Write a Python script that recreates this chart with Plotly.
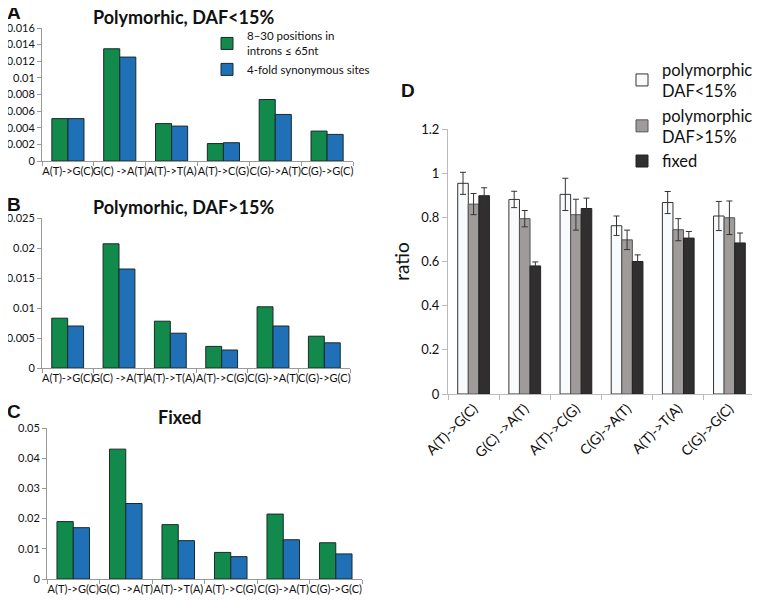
import plotly.graph_objects as go

# mutation types, panels A-C
subs = ["A(T)->G(C)", "G(C) ->A(T)", "A(T)->T(A)", "A(T)->C(G)", "C(G)->A(T)", "C(G)->G(C)"]

# panel A: polymorphic, DAF<15%
a_intron = [0.0051, 0.0135, 0.0045, 0.0021, 0.0074, 0.0036]
a_syn = [0.0051, 0.0125, 0.0042, 0.0022, 0.0056, 0.0032]
# panel B: polymorphic, DAF>15%
b_intron = [0.0083, 0.0207, 0.0078, 0.0036, 0.0102, 0.0053]
b_syn = [0.0070, 0.0165, 0.0058, 0.0030, 0.0070, 0.0042]
# panel C: fixed
c_intron = [0.019, 0.043, 0.018, 0.0088, 0.0215, 0.012]
c_syn = [0.017, 0.025, 0.0127, 0.0074, 0.013, 0.0083]

# panel D: ratios with error bars
d_subs = ["A(T)->G(C)", "G(C) ->A(T)", "A(T)->C(G)", "C(G)->A(T)", "A(T)->T(A)", "C(G)->G(C)"]
d_low = [0.954, 0.881, 0.904, 0.762, 0.867, 0.806]
d_low_err = [0.050, 0.037, 0.073, 0.044, 0.050, 0.066]
d_high = [0.860, 0.794, 0.812, 0.698, 0.744, 0.798]
d_high_err = [0.048, 0.037, 0.070, 0.044, 0.050, 0.076]
d_fixed = [0.898, 0.580, 0.840, 0.600, 0.706, 0.684]
d_fixed_err = [0.036, 0.018, 0.047, 0.030, 0.030, 0.045]

GREEN = "#128a4c"
BLUE = "#1f70b6"
W, H = 760, 603
OFF = 8  # the page body adds an 8px margin
FONT = "Lato"


def fx(x):
    return (x - OFF) / W


def fy(y):
    return 1 - (y - OFF) / H


def px(x0, x1):
    return [fx(x0), fx(x1)]


def py(top, bottom):
    return [fy(bottom), fy(top)]


fig = go.Figure()

left_panels = [
    ("x", "y", a_intron, a_syn, True),
    ("x2", "y2", b_intron, b_syn, False),
    ("x3", "y3", c_intron, c_syn, False),
]
for xa, ya, gi, bl, show in left_panels:
    fig.add_trace(go.Bar(x=subs, y=gi, xaxis=xa, yaxis=ya, marker_color=GREEN,
                         marker_line=dict(color="#1a2a2a", width=1),
                         name="8–30 positions in<br>introns ≤ 65nt", showlegend=show, legend="legend"))
    fig.add_trace(go.Bar(x=subs, y=bl, xaxis=xa, yaxis=ya, marker_color=BLUE,
                         marker_line=dict(color="#1a2a2a", width=1),
                         name="4-fold synonymous sites", showlegend=show, legend="legend"))

err_style = dict(type="data", thickness=1, width=3, color="#333333")
fig.add_trace(go.Bar(x=d_subs, y=d_low, xaxis="x4", yaxis="y4", marker_color="#f8fafc",
                     marker_line=dict(color="#333333", width=1),
                     error_y=dict(array=d_low_err, **err_style),
                     name="polymorphic,<br>DAF<15%", legend="legend2"))
fig.add_trace(go.Bar(x=d_subs, y=d_high, xaxis="x4", yaxis="y4", marker_color="#a09b9b",
                     marker_line=dict(color="#555555", width=1),
                     error_y=dict(array=d_high_err, **err_style),
                     name="polymorphic,<br>DAF>15%", legend="legend2"))
fig.add_trace(go.Bar(x=d_subs, y=d_fixed, xaxis="x4", yaxis="y4", marker_color="#302e2e",
                     marker_line=dict(color="#222222", width=1),
                     error_y=dict(array=d_fixed_err, **err_style),
                     name="fixed", legend="legend2"))

tick_font = dict(family=FONT, size=11, color="#111111")
xstyle = dict(type="category", tickson="boundaries", ticks="outside", ticklen=4,
              tickcolor="#999999", showline=True, linecolor="#999999", linewidth=1,
              tickfont=tick_font, tickangle=0)
ystyle = dict(ticks="outside", ticklen=4, tickcolor="#999999", showline=True,
              linecolor="#999999", linewidth=1, showgrid=False, zeroline=False,
              tickfont=tick_font, tickformat="~g")

fig.update_layout(
    width=W, height=H,
    margin=dict(l=0, r=0, t=0, b=0, autoexpand=False),
    paper_bgcolor="white", plot_bgcolor="white",
    barmode="group",
    font=dict(family=FONT, color="#111111"),
    xaxis=dict(domain=px(42, 353), anchor="y", **xstyle),
    yaxis=dict(domain=py(28, 161), anchor="x", range=[0, 0.016], dtick=0.002, **ystyle),
    xaxis2=dict(domain=px(42, 350), anchor="y2", **xstyle),
    yaxis2=dict(domain=py(218, 368), anchor="x2", range=[0, 0.025], dtick=0.005, **ystyle),
    xaxis3=dict(domain=px(47, 362), anchor="y3", **xstyle),
    yaxis3=dict(domain=py(428, 579), anchor="x3", range=[0, 0.05], dtick=0.01, **ystyle),
    xaxis4=dict(domain=px(448, 755), anchor="y4", type="category", tickson="boundaries",
                ticks="outside", ticklen=5, tickcolor="#bbbbbb", showline=True,
                linecolor="#bbbbbb", tickangle=-45,
                tickfont=dict(family=FONT, size=14, color="#111111")),
    yaxis4=dict(domain=py(129, 394), anchor="x4", range=[0, 1.2], dtick=0.2,
                tickformat="~g", ticks="outside", ticklen=5, tickcolor="#bbbbbb",
                showline=True, linecolor="#bbbbbb", showgrid=False, zeroline=False,
                tickfont=dict(family=FONT, size=13, color="#111111"),
                title=dict(text="ratio", font=dict(family=FONT, size=19), standoff=6)),
    bargap=0.38, bargroupgap=0,
    legend=dict(x=fx(207), y=fy(22), xanchor="left", yanchor="top",
                bgcolor="rgba(0,0,0,0)", font=dict(family=FONT, size=11.5),
                tracegroupgap=3, itemwidth=30),
    legend2=dict(x=fx(622), y=fy(52), xanchor="left", yanchor="top",
                 bgcolor="rgba(0,0,0,0)", font=dict(family=FONT, size=16.5),
                 tracegroupgap=6, itemwidth=30),
)

title_font = dict(family=FONT, size=18, color="#111111")
letter_font = dict(family="Liberation Sans", size=19, color="#111111")
notes = [
    (183, 17, "<b>Polymorhic, DAF<15%</b>", title_font),
    (183, 207, "<b>Polymorhic, DAF>15%</b>", title_font),
    (180, 417, "<b>Fixed</b>", title_font),
    (14, 13, "<b>A</b>", letter_font),
    (14, 205, "<b>B</b>", letter_font),
    (14, 412, "<b>C</b>", letter_font),
    (408, 90, "<b>D</b>", letter_font),
]
for x, y, t, f in notes:
    fig.add_annotation(x=fx(x), y=fy(y), xref="paper", yref="paper", text=t,
                       showarrow=False, font=f, xanchor="center", yanchor="middle")

fig.write_html("out.html")
